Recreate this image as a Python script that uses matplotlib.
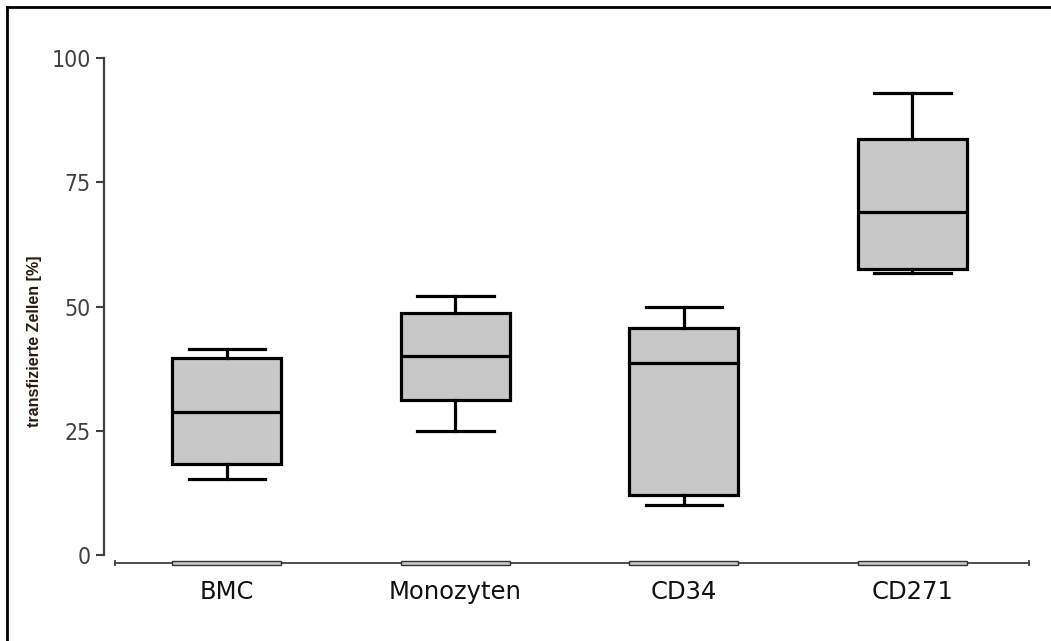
import matplotlib
matplotlib.use("Agg")
import matplotlib.pyplot as plt
from matplotlib.lines import Line2D

# Werte
kategorien = ["BMC", "Monozyten", "CD34", "CD271"]
whisker_unten = [15.3, 25.0, 10.1, 56.7]
q1 = [18.3, 31.2, 12.1, 57.5]
median = [28.8, 40.0, 38.6, 69.0]
q3 = [39.6, 48.7, 45.7, 83.7]
whisker_oben = [41.4, 52.1, 49.9, 93.0]
yticks = [0, 25, 50, 75, 100]

positionen = list(range(len(kategorien)))

fig = plt.figure(figsize=(10.51, 6.41), dpi=100)
ax = fig.add_axes([115 / 1051, 78 / 641, 914 / 1051, 505 / 641])

stats = []
for i, name in enumerate(kategorien):
    stats.append(dict(label=name, whislo=whisker_unten[i], q1=q1[i], med=median[i],
                      q3=q3[i], whishi=whisker_oben[i], fliers=[]))

ax.bxp(stats, positions=positionen, widths=0.477, capwidths=0.333,
       patch_artist=True, showfliers=False, manage_ticks=False,
       boxprops=dict(facecolor="#c8c8c8", edgecolor="black", linewidth=2.3),
       medianprops=dict(color="black", linewidth=2.3),
       whiskerprops=dict(color="black", linewidth=2.3),
       capprops=dict(color="black", linewidth=2.3))

# flache Kästchen auf der x-Achse
ax.bar(positionen, 0.7, bottom=-1.95, width=0.477, color="#c8c8c8",
       edgecolor="#333333", linewidth=1.0, zorder=3, clip_on=False)

ax.set_xlim(-0.49, 3.51)
ax.set_ylim(-1.6, 100)

for s in ["top", "right"]:
    ax.spines[s].set_visible(False)
ax.spines["left"].set_position(("outward", 8))
ax.spines["left"].set_bounds(0, 100)
ax.spines["left"].set_color("#404040")
ax.spines["left"].set_linewidth(1.6)
ax.spines["bottom"].set_color("#404040")
ax.spines["bottom"].set_linewidth(1.3)

ax.set_yticks(yticks)
ax.set_yticklabels([str(v) for v in yticks], fontfamily="DejaVu Sans", fontstretch="condensed",
                   fontsize=16.5, color="#404040")
ax.tick_params(axis="y", length=5.5, width=1.5, color="#404040", pad=4)

ax.set_xticks(positionen)
ax.set_xticklabels(kategorien, fontfamily="DejaVu Sans", fontsize=17.5, color="#111111")
ax.tick_params(axis="x", length=0, pad=12)
ax.set_xticks([-0.49, 3.51], minor=True)
ax.tick_params(axis="x", which="minor", length=5, width=1.3, direction="inout", color="#404040")

fig.text(35 / 1051, 1 - 341 / 641, "transfizierte Zellen [%]", rotation=90,
         ha="center", va="center", fontfamily="Liberation Sans", fontweight="bold",
         fontsize=11.5, color="#2a1a10")

# Rahmen oben und links
fig.add_artist(Line2D([7 / 1051, 7 / 1051], [0, 1 - 7 / 641], color="black", linewidth=2,
                      transform=fig.transFigure))
fig.add_artist(Line2D([7 / 1051, 1], [1 - 7 / 641, 1 - 7 / 641], color="black", linewidth=2,
                      transform=fig.transFigure))

fig.savefig("out.png", dpi=100)
